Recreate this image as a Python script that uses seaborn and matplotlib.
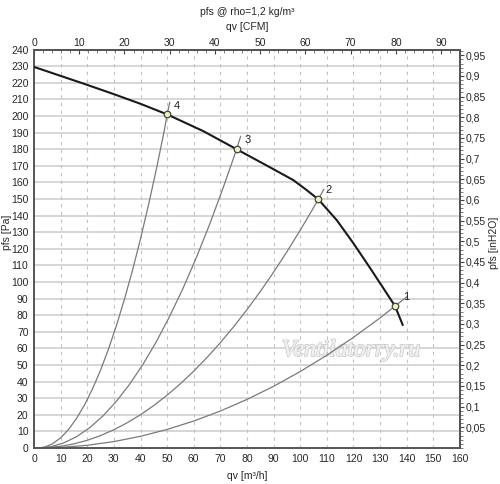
import numpy as np
import pandas as pd
import matplotlib
matplotlib.use("Agg")
import matplotlib.pyplot as plt
import matplotlib.patheffects as pe
from matplotlib.ticker import MultipleLocator, FuncFormatter, FixedLocator
import seaborn as sns

# ---- data ----
fan_q = [0, 18.5, 29.8, 39.8, 50, 63.6, 76.1, 87.4, 97.4, 102.4, 106.8, 113.7, 119.9, 126.2, 131.2, 135.6, 138.5]
fan_p = [229.6, 219.6, 213.3, 207.5, 201, 190.9, 180, 170.2, 161.4, 155.4, 149.8, 137.3, 123.5, 108.5, 96.3, 85.5, 74.1]

sys1_q = [1.5, 10, 20, 30, 40, 50, 60, 70, 80, 90, 100, 110, 120, 130, 135.6, 140.2]
sys1_p = [0, 0.34, 1.62, 3.86, 7.04, 11.17, 16.25, 22.28, 29.26, 37.18, 46.06, 55.89, 66.67, 78.39, 85.5, 91.3]
sys2_q = [1.5, 10, 15, 20, 25, 30, 35, 40, 45, 50, 55, 60, 65, 70, 75, 80, 85, 90, 95, 100, 103, 106.8, 108.9]
sys2_p = [0, 0.98, 2.47, 4.63, 7.47, 10.99, 15.18, 20.05, 25.6, 31.82, 38.72, 46.3, 54.55, 63.48,
          73.08, 83.36, 94.32, 105.96, 118.27, 131.25, 139.37, 149.8, 156]
sys3_q = [1.5, 6, 11, 16, 21, 26, 31, 36, 41, 46, 51, 56, 61, 66, 71, 76.1, 77.6]
sys3_p = [0, 0.66, 2.93, 6.82, 12.33, 19.47, 28.22, 38.6, 50.6, 64.2, 79.5, 96.3, 114.8, 134.9, 156.6, 180, 187.8]
sys4_q = [1.5, 4, 7, 10, 13, 16, 19, 22, 25, 28, 31, 34, 37, 40, 43, 46, 49, 50, 51]
sys4_p = [0, 0.53, 2.57, 6.14, 11.2, 17.9, 26.0, 35.7, 46.9, 59.7, 74.0, 89.8, 107.1, 126.0, 146.4,
          168.3, 191.8, 201, 208.3]

op_labels = ["1", "2", "3", "4"]
op_q = [135.6, 106.8, 76.1, 50.0]
op_p = [85.5, 149.8, 180, 201]
lab_q = [139.8, 110.8, 80.2, 53.6]
lab_p = [91, 155.5, 185.5, 206]

x_ticks = list(range(0, 161, 10))
y_ticks = list(range(0, 241, 10))
cfm_ticks = list(range(0, 91, 10))
inh2o_ticks = [round(0.05 * i, 2) for i in range(1, 20)]

PA_PER_INH2O = 249.089
CFM_PER_M3H = 0.588578
FS = 7.5

sns.set_style("white")
plt.rcParams['font.family'] = ['Liberation Sans', 'DejaVu Sans']

fig = plt.figure(figsize=(5.0, 4.84), dpi=100)
ax = fig.add_axes([0.068, 0.0744, 0.852, 0.823])

# grid
for y in y_ticks[1:-1]:
    ax.axhline(y, color="#cfcfcf", lw=1.2, zorder=0)
for x in x_ticks[1:-1]:
    ax.axvline(x, color="#c2c2c2", lw=0.8, ls=(0, (3, 4)), zorder=0)

gray = "#7a7a7a"
for q, p in [(sys1_q, sys1_p), (sys2_q, sys2_p), (sys3_q, sys3_p), (sys4_q, sys4_p)]:
    df = pd.DataFrame({"q": q, "p": p})
    sns.lineplot(data=df, x="q", y="p", ax=ax, color=gray, lw=0.9,
                 sort=False, estimator=None, zorder=2)

df_fan = pd.DataFrame({"q": fan_q, "p": fan_p})
sns.lineplot(data=df_fan, x="q", y="p", ax=ax, color="#1a1a1a", lw=1.5,
             sort=False, estimator=None, zorder=3)

df_op = pd.DataFrame({"q": op_q, "p": op_p})
sns.scatterplot(data=df_op, x="q", y="p", ax=ax, s=22, color="#f3efc0",
                edgecolor="#444444", linewidth=0.9, zorder=4)
for t, q, p in zip(op_labels, lab_q, lab_p):
    ax.text(q, p, t, fontsize=FS + 0.5, color="#222222", ha="center", va="center", zorder=5)

ax.text(0.745, 0.245, "Ventilatorry.ru", transform=ax.transAxes, fontsize=17,
        family="Liberation Serif", style="italic", color="#f0f0f0",
        ha="center", va="center", zorder=1,
        path_effects=[pe.withStroke(linewidth=1.3, foreground="#cccccc"), pe.Normal()])

ax.set_xlim(0, 160)
ax.set_ylim(0, 240)
ax.set_xlabel("")
ax.set_ylabel("")
ax.xaxis.set_major_locator(FixedLocator(x_ticks))
ax.yaxis.set_major_locator(FixedLocator(y_ticks))
ax.xaxis.set_minor_locator(MultipleLocator(2))
ax.yaxis.set_minor_locator(MultipleLocator(2))
ax.tick_params(axis="both", which="major", direction="out", length=3, width=0.8,
               labelsize=FS, pad=1, color="#444444")
ax.tick_params(axis="both", which="minor", direction="out", length=2, width=0.6,
               color="#666666")
for s in ax.spines.values():
    s.set_color("#555555")
    s.set_linewidth(1.4)

sec_x = ax.secondary_xaxis("top", functions=(lambda q: q * CFM_PER_M3H,
                                             lambda c: c / CFM_PER_M3H))
sec_x.xaxis.set_major_locator(FixedLocator(cfm_ticks))
sec_x.xaxis.set_minor_locator(MultipleLocator(2))
sec_x.tick_params(axis="x", which="major", direction="in", length=3, labelsize=FS, pad=1, color="#444444")
sec_x.tick_params(axis="x", which="minor", direction="in", length=2, color="#666666")
sec_x.spines["top"].set_color("#555555")
sec_x.spines["top"].set_linewidth(1.4)

sec_y = ax.secondary_yaxis("right", functions=(lambda p: p / PA_PER_INH2O,
                                               lambda h: h * PA_PER_INH2O))
sec_y.yaxis.set_major_locator(FixedLocator(inh2o_ticks))
sec_y.yaxis.set_minor_locator(MultipleLocator(0.01))
sec_y.yaxis.set_major_formatter(FuncFormatter(lambda v, pos: ("%g" % round(v, 2)).replace(".", ",")))
sec_y.tick_params(axis="y", which="major", direction="out", length=3, labelsize=FS, pad=1, color="#444444")
sec_y.tick_params(axis="y", which="minor", direction="out", length=2, color="#666666")
sec_y.spines["right"].set_color("#555555")
sec_y.spines["right"].set_linewidth(1.4)

fig.text(0.495, 1 - 12 / 484, "pfs @ rho=1,2 kg/m³", ha="center", va="center", fontsize=FS)
fig.text(0.495, 1 - 27 / 484, "qv [CFM]", ha="center", va="center", fontsize=FS)
fig.text(0.495, 1 - 476 / 484, "qv [m³/h]", ha="center", va="center", fontsize=FS)
fig.text(7 / 500, 1 - 232 / 484, "pfs [Pa]", ha="center", va="center", rotation=90, fontsize=FS)
fig.text(494 / 500, 1 - 243 / 484, "pfs [inH2O]", ha="center", va="center", rotation=90, fontsize=FS)

fig.savefig("out.png", dpi=100)
